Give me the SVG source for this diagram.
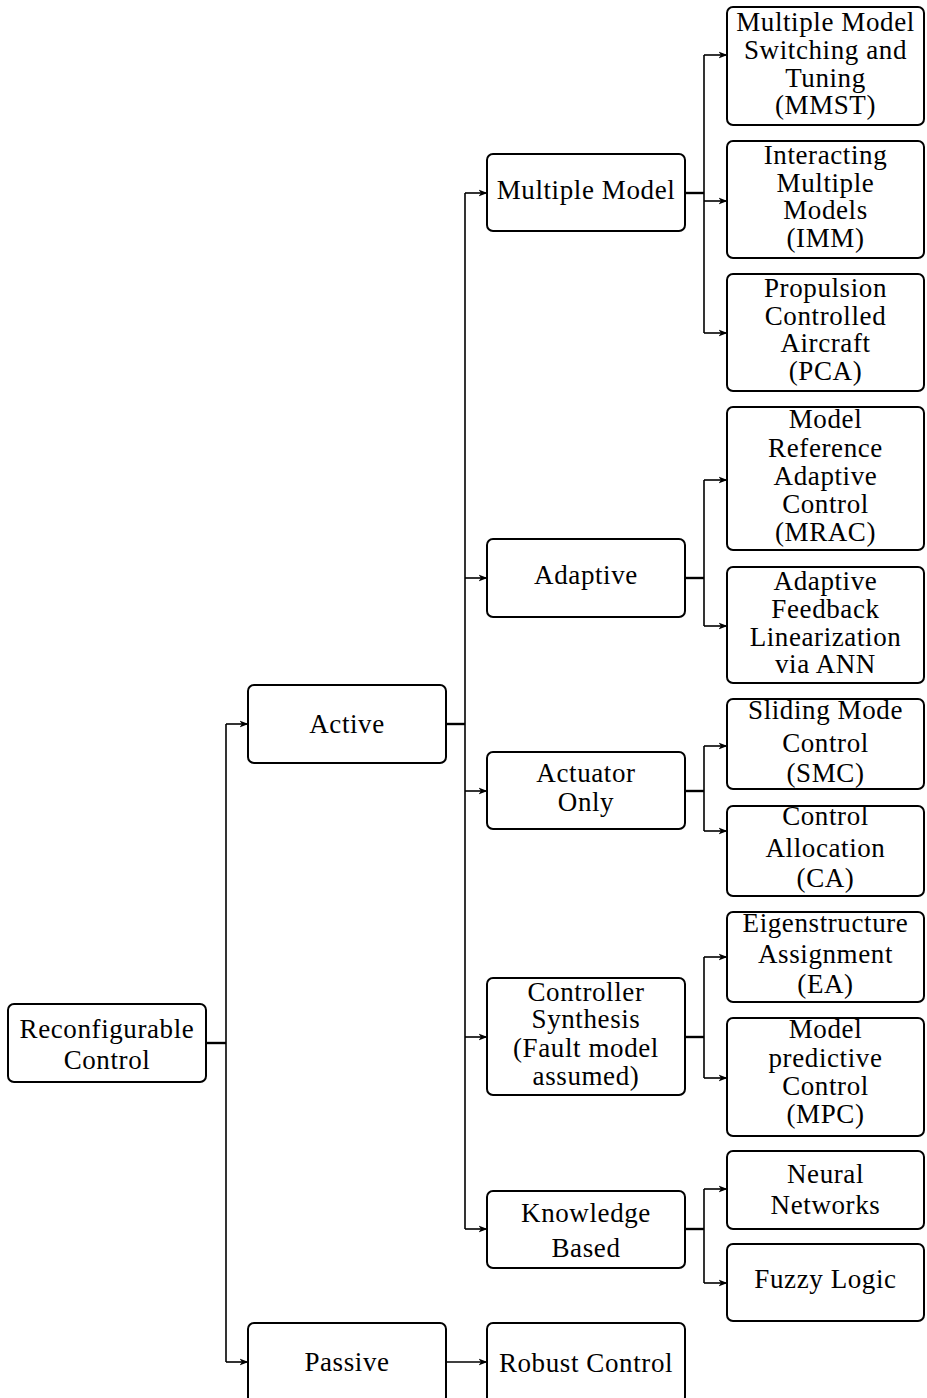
<svg xmlns="http://www.w3.org/2000/svg" width="927" height="1398" viewBox="0 0 927 1398">
<style>
.box{fill:#fff;stroke:#000;stroke-width:2}
.t{font-family:"Liberation Serif","DejaVu Serif",serif;font-size:27px;letter-spacing:0.6px;fill:#000;text-anchor:middle}
.c{fill:none;stroke:#000;stroke-width:1.6}
.s{fill:none;stroke:#000;stroke-width:2.4}
</style>
<defs>
<marker id="ah" markerWidth="10" markerHeight="10" refX="8.5" refY="4.5" orient="auto" markerUnits="userSpaceOnUse">
<path d="M0,1 L9,4.5 L0,8 L2.5,4.5 Z" fill="#000"/>
</marker>
</defs>
<rect width="927" height="1398" fill="#fff"/>
<g id="connectors">
<path class="s" d="M206,1043 H226"/>
<path class="c" d="M226,724 V1362"/>
<path class="c" d="M226,724 H248" marker-end="url(#ah)"/>
<path class="c" d="M226,1362 H248" marker-end="url(#ah)"/>
<path class="s" d="M446,724 H465"/>
<path class="c" d="M465,193 V1229"/>
<path class="c" d="M465,193 H487" marker-end="url(#ah)"/>
<path class="c" d="M465,578 H487" marker-end="url(#ah)"/>
<path class="c" d="M465,791 H487" marker-end="url(#ah)"/>
<path class="c" d="M465,1037 H487" marker-end="url(#ah)"/>
<path class="c" d="M465,1229 H487" marker-end="url(#ah)"/>
<path class="c" d="M446,1362 H487" marker-end="url(#ah)"/>
<path class="s" d="M685,193 H704"/>
<path class="c" d="M704,55 V333"/>
<path class="c" d="M704,55 H727" marker-end="url(#ah)"/>
<path class="c" d="M704,201 H727" marker-end="url(#ah)"/>
<path class="c" d="M704,333 H727" marker-end="url(#ah)"/>
<path class="s" d="M685,578 H704"/>
<path class="c" d="M704,480 V626"/>
<path class="c" d="M704,480 H727" marker-end="url(#ah)"/>
<path class="c" d="M704,626 H727" marker-end="url(#ah)"/>
<path class="s" d="M685,791 H704"/>
<path class="c" d="M704,746 V831"/>
<path class="c" d="M704,746 H727" marker-end="url(#ah)"/>
<path class="c" d="M704,831 H727" marker-end="url(#ah)"/>
<path class="s" d="M685,1037 H704"/>
<path class="c" d="M704,957 V1078"/>
<path class="c" d="M704,957 H727" marker-end="url(#ah)"/>
<path class="c" d="M704,1078 H727" marker-end="url(#ah)"/>
<path class="s" d="M685,1229 H704"/>
<path class="c" d="M704,1189 V1283"/>
<path class="c" d="M704,1189 H727" marker-end="url(#ah)"/>
<path class="c" d="M704,1283 H727" marker-end="url(#ah)"/>
</g>
<g id="reconfigurable">
<rect class="box" x="8" y="1004" width="198" height="78" rx="6"/>
<text class="t" x="107" y="1038">Reconfigurable</text>
<text class="t" x="107" y="1069">Control</text>
</g>
<g id="active">
<rect class="box" x="248" y="685" width="198" height="78" rx="6"/>
<text class="t" x="347" y="733">Active</text>
</g>
<g id="passive">
<rect class="box" x="248" y="1323" width="198" height="80" rx="6"/>
<text class="t" x="347" y="1371">Passive</text>
</g>
<g id="robust">
<rect class="box" x="487" y="1323" width="198" height="80" rx="6"/>
<text class="t" x="586" y="1372">Robust Control</text>
</g>
<g id="multiple-model">
<rect class="box" x="487" y="154" width="198" height="77" rx="6"/>
<text class="t" x="586" y="199">Multiple Model</text>
</g>
<g id="adaptive">
<rect class="box" x="487" y="539" width="198" height="78" rx="6"/>
<text class="t" x="586" y="584">Adaptive</text>
</g>
<g id="actuator-only">
<rect class="box" x="487" y="752" width="198" height="77" rx="6"/>
<text class="t" x="586" y="782">Actuator</text>
<text class="t" x="586" y="811">Only</text>
</g>
<g id="controller-synthesis">
<rect class="box" x="487" y="978" width="198" height="117" rx="6"/>
<text class="t" x="586" y="1001">Controller</text>
<text class="t" x="586" y="1028">Synthesis</text>
<text class="t" x="586" y="1057">(Fault model</text>
<text class="t" x="586" y="1085">assumed)</text>
</g>
<g id="knowledge-based">
<rect class="box" x="487" y="1191" width="198" height="77" rx="6"/>
<text class="t" x="586" y="1222">Knowledge</text>
<text class="t" x="586" y="1257">Based</text>
</g>
<g id="mmst">
<rect class="box" x="727" y="7" width="197" height="118" rx="6"/>
<text class="t" x="825.5" y="31">Multiple Model</text>
<text class="t" x="825.5" y="59">Switching and</text>
<text class="t" x="825.5" y="87">Tuning</text>
<text class="t" x="825.5" y="114">(MMST)</text>
</g>
<g id="imm">
<rect class="box" x="727" y="141" width="197" height="117" rx="6"/>
<text class="t" x="825.5" y="164">Interacting</text>
<text class="t" x="825.5" y="192">Multiple</text>
<text class="t" x="825.5" y="219">Models</text>
<text class="t" x="825.5" y="247">(IMM)</text>
</g>
<g id="pca">
<rect class="box" x="727" y="274" width="197" height="117" rx="6"/>
<text class="t" x="825.5" y="297">Propulsion</text>
<text class="t" x="825.5" y="325">Controlled</text>
<text class="t" x="825.5" y="352">Aircraft</text>
<text class="t" x="825.5" y="380">(PCA)</text>
</g>
<g id="mrac">
<rect class="box" x="727" y="407" width="197" height="143" rx="6"/>
<text class="t" x="825.5" y="428">Model</text>
<text class="t" x="825.5" y="457">Reference</text>
<text class="t" x="825.5" y="485">Adaptive</text>
<text class="t" x="825.5" y="513">Control</text>
<text class="t" x="825.5" y="541">(MRAC)</text>
</g>
<g id="afl-ann">
<rect class="box" x="727" y="567" width="197" height="116" rx="6"/>
<text class="t" x="825.5" y="590">Adaptive</text>
<text class="t" x="825.5" y="618">Feedback</text>
<text class="t" x="825.5" y="646">Linearization</text>
<text class="t" x="825.5" y="673">via ANN</text>
</g>
<g id="smc">
<rect class="box" x="727" y="699" width="197" height="90" rx="6"/>
<text class="t" x="825.5" y="719">Sliding Mode</text>
<text class="t" x="825.5" y="752">Control</text>
<text class="t" x="825.5" y="782">(SMC)</text>
</g>
<g id="ca">
<rect class="box" x="727" y="806" width="197" height="90" rx="6"/>
<text class="t" x="825.5" y="825">Control</text>
<text class="t" x="825.5" y="857">Allocation</text>
<text class="t" x="825.5" y="887">(CA)</text>
</g>
<g id="ea">
<rect class="box" x="727" y="912" width="197" height="90" rx="6"/>
<text class="t" x="825.5" y="932">Eigenstructure</text>
<text class="t" x="825.5" y="963">Assignment</text>
<text class="t" x="825.5" y="993">(EA)</text>
</g>
<g id="mpc">
<rect class="box" x="727" y="1018" width="197" height="118" rx="6"/>
<text class="t" x="825.5" y="1038">Model</text>
<text class="t" x="825.5" y="1067">predictive</text>
<text class="t" x="825.5" y="1095">Control</text>
<text class="t" x="825.5" y="1123">(MPC)</text>
</g>
<g id="neural-networks">
<rect class="box" x="727" y="1151" width="197" height="78" rx="6"/>
<text class="t" x="825.5" y="1183">Neural</text>
<text class="t" x="825.5" y="1214">Networks</text>
</g>
<g id="fuzzy-logic">
<rect class="box" x="727" y="1244" width="197" height="77" rx="6"/>
<text class="t" x="825.5" y="1288">Fuzzy Logic</text>
</g>
</svg>
